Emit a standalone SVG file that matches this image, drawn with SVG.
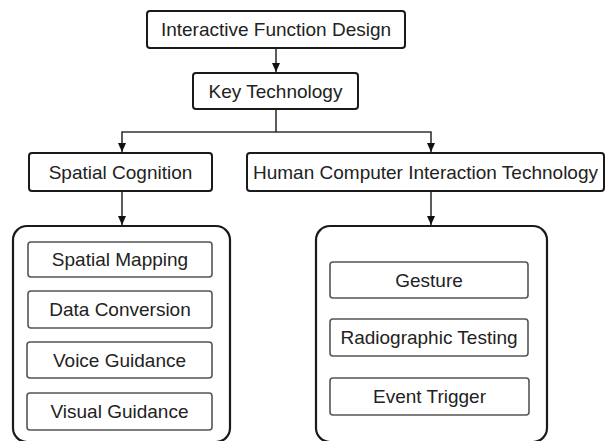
<svg xmlns="http://www.w3.org/2000/svg" width="607" height="441" viewBox="0 0 607 441">
<style>
.main{fill:#fff;stroke:#1a1a1a;stroke-width:2}
.cont{fill:#fff;stroke:#1a1a1a;stroke-width:2.2}
.sub{fill:#fff;stroke:#555;stroke-width:1.6}
text{font-family:"Liberation Sans",Arial,sans-serif;font-size:19px;fill:#222;text-anchor:middle}
.conn{fill:none;stroke:#333;stroke-width:1.6}
</style>
<defs>
<marker id="arr" markerWidth="10" markerHeight="10" refX="9" refY="5" orient="auto" markerUnits="userSpaceOnUse">
<path d="M0,1 L9,5 L0,9 Z" fill="#111"/>
</marker>
</defs>
<g id="connectors">
<line class="conn" x1="276" y1="48" x2="276" y2="72" marker-end="url(#arr)"/>
<polyline class="conn" points="276,109 276,132 122,132 122,152" marker-end="url(#arr)"/>
<polyline class="conn" points="276,132 431,132 431,152" marker-end="url(#arr)"/>
<line class="conn" x1="122" y1="191" x2="122" y2="225" marker-end="url(#arr)"/>
<line class="conn" x1="431" y1="191" x2="431" y2="225" marker-end="url(#arr)"/>
</g>
<g id="n-interactive">
<rect class="main" x="147" y="11" width="258" height="37" rx="3"/>
<text x="276" y="36">Interactive Function Design</text>
</g>
<g id="n-key">
<rect class="main" x="193" y="73" width="165" height="36" rx="3"/>
<text x="275.5" y="98">Key Technology</text>
</g>
<g id="n-spatial">
<rect class="main" x="29" y="153" width="183" height="38" rx="3"/>
<text x="120.5" y="179">Spatial Cognition</text>
</g>
<g id="n-hci">
<rect class="main" x="247" y="153" width="357" height="38" rx="3"/>
<text x="425.5" y="179">Human Computer Interaction Technology</text>
</g>
<g id="c-left">
<rect class="cont" x="13" y="226" width="217" height="216" rx="14"/>
</g>
<g id="n-mapping">
<rect class="sub" x="28" y="242" width="184" height="35" rx="3"/>
<text x="120" y="266">Spatial Mapping</text>
</g>
<g id="n-data">
<rect class="sub" x="28" y="291" width="184" height="37" rx="3"/>
<text x="120" y="316">Data Conversion</text>
</g>
<g id="n-voice">
<rect class="sub" x="27" y="342" width="185" height="36" rx="3"/>
<text x="119.5" y="367">Voice Guidance</text>
</g>
<g id="n-visual">
<rect class="sub" x="27" y="393" width="185" height="37" rx="3"/>
<text x="119.5" y="418">Visual Guidance</text>
</g>
<g id="c-right">
<rect class="cont" x="316" y="226" width="231" height="216" rx="14"/>
</g>
<g id="n-gesture">
<rect class="sub" x="330" y="262" width="198" height="36" rx="3"/>
<text x="429" y="287">Gesture</text>
</g>
<g id="n-radio">
<rect class="sub" x="330" y="319" width="198" height="37" rx="3"/>
<text x="429" y="344">Radiographic Testing</text>
</g>
<g id="n-event">
<rect class="sub" x="330" y="378" width="199" height="37" rx="3"/>
<text x="429.5" y="403">Event Trigger</text>
</g>
</svg>
